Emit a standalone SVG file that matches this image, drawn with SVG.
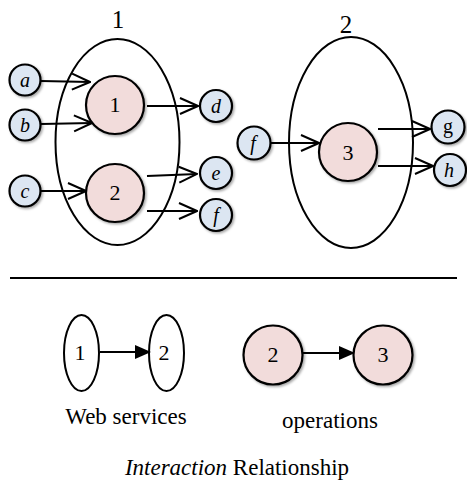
<svg xmlns="http://www.w3.org/2000/svg" width="467" height="486" viewBox="0 0 467 486">
<style>
.ws{fill:none;stroke:#000;stroke-width:2}
.op{fill:#f2dcdb;stroke:#000;stroke-width:2.2;filter:url(#sh)}
.io{fill:#dce6f2;stroke:#000;stroke-width:2.2;filter:url(#sh)}
.num{font-size:22px;fill:#000;text-anchor:middle}
.big{font-size:25px;fill:#000;text-anchor:middle}
.var{font-size:20px;font-style:italic;fill:#000;text-anchor:middle}
.lbl{font-size:23px;fill:#000;text-anchor:middle}
.c{fill:none;stroke:#000;stroke-width:2}
.oa{marker-end:url(#open)}
.fa{marker-end:url(#fill)}
</style>
<defs>
<filter id="sh" x="-30%" y="-30%" width="160%" height="160%">
<feDropShadow dx="1.5" dy="1.5" stdDeviation="1" flood-color="#000" flood-opacity="0.35"/>
</filter>
<marker id="open" viewBox="0 0 20 20" refX="19" refY="10" markerWidth="20" markerHeight="20" markerUnits="userSpaceOnUse" orient="auto">
<path d="M1,2 L19,10 L1,18" fill="none" stroke="#000" stroke-width="2"/>
</marker>
<marker id="fill" viewBox="0 0 16 14" refX="15" refY="7" markerWidth="16" markerHeight="14" markerUnits="userSpaceOnUse" orient="auto">
<path d="M0,0 L16,7 L0,14 z" fill="#000"/>
</marker>
</defs>

<g font-family="'Liberation Serif', 'Times New Roman', serif">
<g id="service1">
<ellipse class="ws" cx="117.5" cy="142" rx="62" ry="103"/>
<text class="big" x="118" y="28">1</text>
</g>
<g id="service2">
<ellipse class="ws" cx="351" cy="142.5" rx="62" ry="105.5"/>
<text class="big" x="346" y="33">2</text>
</g>

<g id="connectors">
<line class="c oa" x1="41" y1="81" x2="90" y2="82"/>
<line class="c oa" x1="41" y1="124" x2="92" y2="123"/>
<line class="c oa" x1="41" y1="191" x2="86" y2="191"/>
<line class="c oa" x1="147" y1="106" x2="198" y2="106"/>
<line class="c oa" x1="147" y1="176" x2="197" y2="174"/>
<line class="c oa" x1="147" y1="211" x2="197" y2="211"/>
<line class="c oa" x1="271" y1="143" x2="319" y2="143"/>
<line class="c oa" x1="378" y1="129" x2="430" y2="129"/>
<line class="c oa" x1="378" y1="166" x2="433" y2="166"/>
<line class="c fa" x1="100" y1="352" x2="150" y2="352"/>
<line class="c fa" x1="303" y1="353" x2="354" y2="353"/>
</g>

<g id="op1"><circle class="op" cx="115" cy="105" r="29"/><text class="num" x="115" y="112">1</text></g>
<g id="op2"><circle class="op" cx="115" cy="193" r="29"/><text class="num" x="115" y="200">2</text></g>
<g id="op3"><circle class="op" cx="348" cy="152" r="29"/><text class="num" x="348" y="160">3</text></g>

<g id="in-a"><circle class="io" cx="25" cy="80" r="15.5"/><text class="var" x="25" y="87">a</text></g>
<g id="in-b"><circle class="io" cx="25" cy="125" r="15.5"/><text class="var" x="25" y="132">b</text></g>
<g id="in-c"><circle class="io" cx="25" cy="191" r="15.5"/><text class="var" x="25" y="198">c</text></g>
<g id="out-d"><circle class="io" cx="216" cy="106" r="16"/><text class="var" x="216" y="113">d</text></g>
<g id="out-e"><circle class="io" cx="216" cy="173" r="16"/><text class="var" x="216" y="180">e</text></g>
<g id="out-f"><circle class="io" cx="216" cy="215" r="16"/><text class="var" x="216" y="222">f</text></g>
<g id="in-f"><circle class="io" cx="254" cy="143" r="16.5"/><text class="var" x="253" y="150">f</text></g>
<g id="out-g"><circle class="io" cx="448" cy="127" r="16.5"/><text class="var" x="448" y="133" font-style="normal" style="font-style:normal">g</text></g>
<g id="out-h"><circle class="io" cx="450" cy="170" r="16"/><text class="var" x="449" y="177">h</text></g>

<line id="divider" x1="10" y1="278" x2="457" y2="278" stroke="#000" stroke-width="2.2"/>

<g id="ws1-small"><ellipse class="ws" cx="81.5" cy="353" rx="17.5" ry="38"/><text class="num" x="80" y="360">1</text></g>
<g id="ws2-small"><ellipse class="ws" cx="166.5" cy="353" rx="17.5" ry="38"/><text class="num" x="164" y="360">2</text></g>
<g id="opA"><circle class="op" cx="273" cy="355" r="29.5"/><text class="num" x="273" y="362">2</text></g>
<g id="opB"><circle class="op" cx="383" cy="355" r="29.5"/><text class="num" x="383" y="362">3</text></g>

<text class="lbl" x="126" y="424">Web services</text>
<text class="lbl" x="330" y="428">operations</text>
<text class="lbl" x="237" y="475"><tspan font-style="italic">Interaction</tspan> Relationship</text>
</g>
</svg>
